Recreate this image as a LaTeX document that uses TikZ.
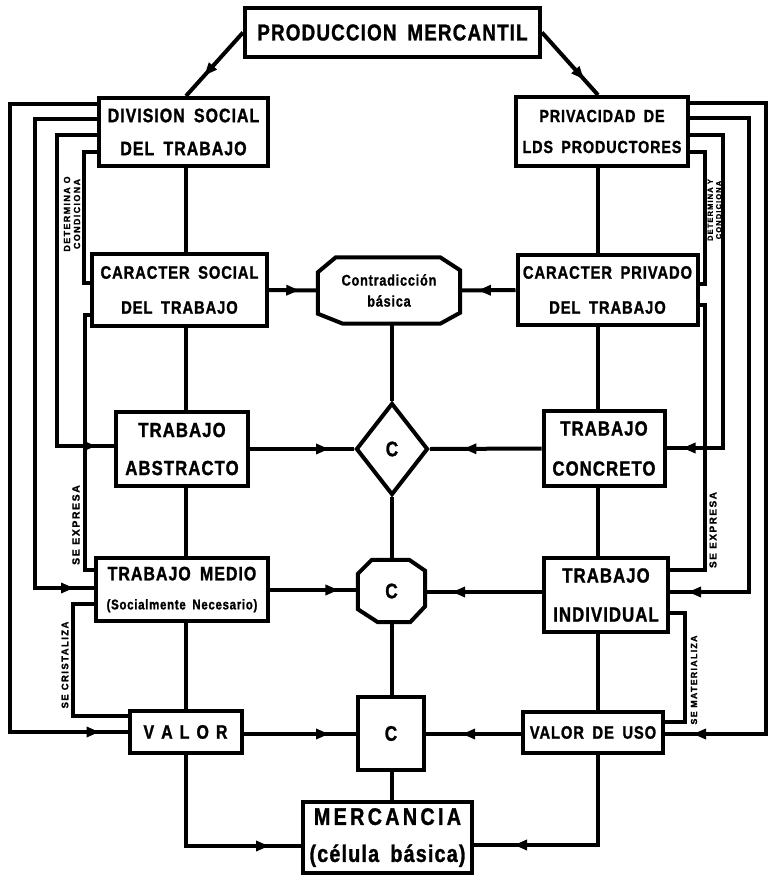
\documentclass[tikz,border=0pt]{standalone}
\usepackage{fontspec}
\usetikzlibrary{arrows.meta,decorations.markings,shapes.geometric}
\newfontfamily\hv[UprightFont={* Bold},BoldFont={* Bold},LetterSpace=5,WordSpace=1.7,FakeStretch=0.82,FakeBold=1.2]{Liberation Sans}
\newfontfamily\hvs[UprightFont={* Bold},BoldFont={* Bold},LetterSpace=15,FakeBold=1.2]{Liberation Sans}
\newcommand\fs[2]{\fontsize{#1}{#2}\selectfont}
\begin{document}
\begin{tikzpicture}[x=1pt,y=-1pt,
  every node/.style={inner sep=0pt},
  bx/.style={draw, rectangle, line width=4pt, align=center},
  ln/.style={line width=4pt},
  marr/.style={postaction={decorate},decoration={markings,mark=at position #1 with {\arrow{Triangle[length=13pt,width=10pt]}}}},
  vlab/.style={rotate=90, align=center, font=\hvs\fs{9}{10}}]
\fill[white] (0,0) rectangle (771,877);
\useasboundingbox (0,0) rectangle (771,877);

% columns and corridors
\coordinate (colL) at (186,0);
\coordinate (colR) at (598,0);
\coordinate (colC) at (392,0);
\coordinate (xL1) at (10,0);
\coordinate (xL2) at (35,0);
\coordinate (xL3) at (57,0);
\coordinate (xL4) at (84,0);
\coordinate (xL5) at (85,0);
\coordinate (xL6) at (73,0);
\coordinate (xR1) at (766,0);
\coordinate (xR2) at (749,0);
\coordinate (xR3) at (723,0);
\coordinate (xR4) at (705,0);
\coordinate (xR5) at (705,0);
\coordinate (xR6) at (685,0);

% boxes
\node[bx, minimum width=295pt, minimum height=49pt, font=\hv\fs{23}{27}] (pm) at (392.5,32.5) {PRODUCCION MERCANTIL};
\node[bx, minimum width=169pt, minimum height=68pt, font=\hv\fs{19.5}{33}] (div) at (183.5,132) {DIVISION SOCIAL\\DEL TRABAJO};
\node[bx, minimum width=172pt, minimum height=69pt, font=\hv\fs{17.5}{31}] (priv) at (602,131.5) {PRIVACIDAD DE\\LDS PRODUCTORES};
\node[bx, minimum width=175pt, minimum height=72pt, font=\hv\fs{18}{35}] (cs) at (179.5,290) {CARACTER SOCIAL\\DEL TRABAJO};
\node[bx, minimum width=180pt, minimum height=70pt, font=\hv\fs{18}{35}] (cp) at (607.5,290) {CARACTER PRIVADO\\DEL TRABAJO};
\node[minimum width=142pt, minimum height=66pt, align=center, font=\hv\fs{15.5}{21}] (cb) at (389,290.5) {Contradicción\\básica};
\node[bx, minimum width=132pt, minimum height=74pt, font=\hv\fs{20.5}{38}] (ta) at (182,449) {TRABAJO\\ABSTRACTO};
\node[diamond, draw, line width=4pt, minimum width=72pt, minimum height=92pt, font=\hv\fs{21}{24}] (dia) at (392,449) {C};
\node[bx, minimum width=121pt, minimum height=75pt, font=\hv\fs{20.5}{40}] (tc) at (604,448.5) {TRABAJO\\CONCRETO};
\node[bx, minimum width=172pt, minimum height=63pt, font=\hv\fs{19.5}{29}] (tm) at (182,589.5) {TRABAJO MEDIO\\{\fs{14}{29}(Socialmente Necesario)}};
\node[minimum width=67pt, minimum height=62pt, font=\hv\fs{21}{24}] (coct) at (391.5,591) {C};
\node[bx, minimum width=124pt, minimum height=74pt, font=\hv\fs{20.5}{39}] (ti) at (606,595) {TRABAJO\\INDIVIDUAL};
\node[bx, minimum width=112pt, minimum height=42pt, font=\hv\fs{19.5}{24}] (valor) at (185.5,732) {V\hspace{7pt}A\hspace{7pt}L\hspace{7pt}O\hspace{7pt}R};
\node[bx, minimum width=66pt, minimum height=73pt, font=\hv\fs{21}{24}] (csq) at (391,733.5) {C};
\node[bx, minimum width=140pt, minimum height=41pt, font=\hv\fs{18}{22}] (vu) at (593,732.5) {VALOR DE USO};
\node[bx, minimum width=169pt, minimum height=71pt, font=\hv\fs{24}{37}] (merc) at (387.5,837.5) {{\addfontfeatures{LetterSpace=14}MERCANCIA}\\(célula básica)};

% octagons
\draw[ln] ([xshift=18pt]cb.north west) -- ([xshift=-20pt]cb.north east) -- ([yshift=-13pt]cb.north east) -- ([yshift=11pt]cb.south east) -- ([xshift=-20pt]cb.south east) -- ([xshift=25pt]cb.south west) -- ([yshift=10pt]cb.south west) -- ([yshift=-15pt]cb.north west) -- cycle;
\draw[ln] ([xshift=14pt]coct.north west) -- ([xshift=-16pt]coct.north east) -- ([yshift=-11pt]coct.north east) -- ([yshift=16pt]coct.south east) -- ([xshift=-15pt]coct.south east) -- ([xshift=20pt]coct.south west) -- ([yshift=13pt]coct.south west) -- ([yshift=-14pt]coct.north west) -- cycle;

% top
\draw[ln, marr=0.68] (pm.west) -- (div.north -| colL);
\draw[ln, marr=0.75] (pm.east) -- (priv.north -| colR);

% left column
\draw[ln] (div.south -| colL) -- (cs.north -| colL);
\draw[ln] (cs.south -| colL) -- (ta.north -| colL);
\draw[ln] (ta.south -| colL) -- (tm.north -| colL);
\draw[ln] (tm.south -| colL) -- (valor.north -| colL);
\draw[ln, marr=-32pt] (valor.south -| colL) |- (merc.west |- 0,846);

% right column
\draw[ln] (priv.south -| colR) -- (cp.north -| colR);
\draw[ln] (cp.south -| colR) -- (tc.north -| colR);
\draw[ln] (tc.south -| colR) -- (ti.north -| colR);
\draw[ln] (ti.south -| colR) -- (vu.north -| colR);
\draw[ln, marr=-40pt] (vu.south -| colR) |- (merc.east |- 0,845);

% centre column
\draw[ln] (cb.south -| colC) -- (dia.north);
\draw[ln] (dia.south) -- (coct.north -| colC);
\draw[ln] (coct.south -| colC) -- (csq.north -| colC);
\draw[ln] (csq.south -| colC) -- (merc.north -| colC);

% horizontal arrows
\draw[ln, marr=0.62] (cs.east) -- (cb.west);
\draw[ln, marr=0.68] (cp.west) -- (cb.east);
\draw[ln, marr=0.76] (ta.east) -- (dia.west);
\draw[ln, marr=0.7] (tc.west) -- (dia.east);
\draw[ln, marr=0.78] (tm.east |- 0,590) -- (coct.west |- 0,590);
\draw[ln, marr=0.77] (ti.west |- 0,592) -- (coct.east |- 0,592);
\draw[ln, marr=0.76] (valor.east |- 0,734) -- (csq.west |- 0,734);
\draw[ln, marr=0.62] (vu.west |- 0,734) -- (csq.east |- 0,734);

% left feedback lines
\draw[ln, marr=-28pt] (div.west |- 0,104) -| (xL1 |- valor.west) -- (valor.west);
\draw[ln, marr=-20pt] (div.west |- 0,119) -| (xL2 |- 0,588) -- (tm.west |- 0,588);
\draw[ln, marr=-18pt] (div.west |- 0,135) -| (xL3 |- 0,446) -- (ta.west |- 0,446);
\draw[ln] (div.west |- 0,152) -| (xL4 |- 0,283) -- (cs.west |- 0,283);
\draw[ln] (cs.west |- 0,315) -| (xL5 |- 0,570) -- (tm.west |- 0,570);
\draw[ln] (tm.west |- 0,604) -| (xL6 |- 0,716) -- (valor.west |- 0,716);

% right feedback lines
\draw[ln, marr=-28pt] (priv.east |- 0,103) -| (xR1 |- 0,734) -- (vu.east |- 0,734);
\draw[ln, marr=-18pt] (priv.east |- 0,118) -| (xR2 |- 0,592) -- (ti.east |- 0,592);
\draw[ln, marr=-16pt] (priv.east |- 0,135) -| (xR3 |- 0,448) -- (tc.east |- 0,448);
\draw[ln] (priv.east |- 0,152) -| (xR4 |- 0,284) -- (cp.east |- 0,284);
\draw[ln] (cp.east |- 0,305) -| (xR5 |- 0,570) -- (ti.east |- 0,570);
\draw[ln] (ti.east |- 0,613) -| (xR6 |- 0,722) -- (vu.east |- 0,722);

% rotated labels
\node[vlab] (l4) at (72,214) {DETERMINA O\\CONDICIONA};
\node[vlab, font=\hvs\fs{7.5}{8.5}] (r4) at (714.5,210) {DETERMINA Y\\CONDICIONA};
\node[vlab, font=\hvs\fs{10.5}{12}] (l5) at (76,525) {SE EXPRESA};
\node[vlab, font=\hvs\fs{9.5}{11}] (l6) at (65,665) {SE CRISTALIZA};
\node[vlab, font=\hvs\fs{10}{12}] (r5) at (713,530) {SE EXPRESA};
\node[vlab, font=\hvs\fs{8.8}{10}] (r6) at (694,680) {SE MATERIALIZA};
\end{tikzpicture}
\end{document}
